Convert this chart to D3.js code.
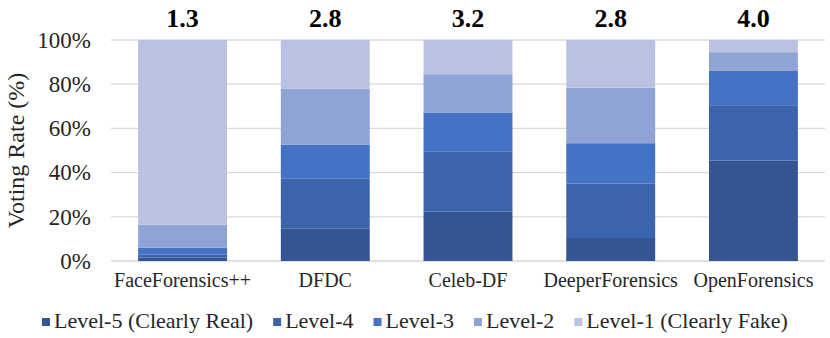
<!DOCTYPE html>
<html>
<head>
<meta charset="utf-8">
<script src="https://cdn.jsdelivr.net/npm/d3@7"></script>
<style>
  body { margin: 0; background: #fff; }
  svg { display: block; }
</style>
</head>
<body>
<div id="canvas"></div>
<script>
const w = 830, h = 338;
const font = "'Liberation Serif', 'Times New Roman', serif";

// data (percent of votes per level)
const datasets = ["FaceForensics++", "DFDC", "Celeb-DF", "DeeperForensics", "OpenForensics"];
const scores = ["1.3", "2.8", "3.2", "2.8", "4.0"];
const levels = ["Level-5 (Clearly Real)", "Level-4", "Level-3", "Level-2", "Level-1 (Clearly Fake)"];
const level5 = [1.5, 14.8, 22.3, 10.4, 45.5];
const level4 = [1.5, 22.4, 27.1, 24.7, 25.0];
const level3 = [3.0, 15.5, 17.8, 18.2, 15.5];
const level2 = [10.4, 25.2, 17.3, 25.1, 8.5];
const level1 = [83.6, 22.1, 15.5, 21.6, 5.5];
const yTicks = [0, 20, 40, 60, 80, 100];
const colors = ["#335593", "#3c64ac", "#4472c4", "#8fa3d4", "#b9c2e2"];

const series = [level5, level4, level3, level2, level1];
const rows = datasets.map((d, i) => {
    let r = { name: d };
    levels.forEach((l, j) => r[l] = series[j][i]);
    return r;
});

const margin = { top: 40, right: 5, bottom: 77, left: 111 };

let svg = d3.select("#canvas")
    .append("svg")
        .attr("width", w)
        .attr("height", h)
        .attr("viewBox", [0, 0, w, h]);

let x = d3.scaleBand()
    .domain(datasets)
    .range([margin.left, w - margin.right])
    .paddingInner(0.377)
    .paddingOuter(0.19);

let y = d3.scaleLinear()
    .domain([0, 100])
    .range([h - margin.bottom, margin.top]);

// gridlines
svg.append("g")
    .selectAll("line")
    .data(yTicks)
    .enter().append("line")
        .attr("x1", margin.left)
        .attr("x2", w - margin.right)
        .attr("y1", d => y(d))
        .attr("y2", d => y(d))
        .attr("stroke", "#d9d9d9")
        .attr("stroke-width", 1.3);

let stack = d3.stack().keys(levels)(rows);

svg.append("g")
    .selectAll("g")
    .data(stack)
    .enter().append("g")
        .attr("fill", (d, i) => colors[i])
    .selectAll("rect")
    .data(d => d)
    .enter().append("rect")
        .attr("x", d => x(d.data.name))
        .attr("width", x.bandwidth())
        .attr("y", d => y(d[1]))
        .attr("height", d => y(d[0]) - y(d[1]));

// y axis labels
let yAxis = d3.axisLeft(y)
    .tickValues(yTicks)
    .tickFormat(d => d + "%")
    .tickSize(0)
    .tickPadding(20);

let gY = svg.append("g")
    .attr("transform", "translate(" + margin.left + ",0)")
    .call(yAxis);
gY.select(".domain").remove();
gY.selectAll("text")
    .style("font-family", font)
    .attr("font-size", 23)
    .attr("fill", "#262626");

// x axis labels
let xAxis = d3.axisBottom(x).tickSize(0).tickPadding(12);
let gX = svg.append("g")
    .attr("transform", "translate(0," + (h - margin.bottom) + ")")
    .call(xAxis);
gX.select(".domain").remove();
gX.selectAll("text")
    .style("font-family", font)
    .attr("font-size", 20)
    .attr("fill", "#262626");

// scores on top
svg.append("g")
    .selectAll("text")
    .data(datasets)
    .enter().append("text")
        .attr("x", d => x(d) + x.bandwidth() / 2)
        .attr("y", 27)
        .attr("text-anchor", "middle")
        .style("font-family", font)
        .attr("font-weight", "bold")
        .attr("font-size", 26)
        .attr("fill", "#000")
        .text((d, i) => scores[i]);

// y title
svg.append("text")
    .attr("transform", "translate(24," + ((margin.top + h - margin.bottom) / 2) + ") rotate(-90)")
    .attr("text-anchor", "middle")
    .style("font-family", font)
    .attr("font-size", 24)
    .attr("fill", "#262626")
    .text("Voting Rate (%)");

// legend
let legend = svg.append("g");
let lx = 42;
levels.forEach((l, i) => {
    legend.append("rect")
        .attr("x", lx)
        .attr("y", 318)
        .attr("width", 8)
        .attr("height", 8)
        .attr("fill", colors[i]);
    let t = legend.append("text")
        .attr("x", lx + 12)
        .attr("y", 328)
        .style("font-family", font)
        .attr("font-size", 22)
        .attr("fill", "#262626")
        .text(l);
    lx += 12 + t.node().getComputedTextLength() + 20;
});
</script>
</body>
</html>
